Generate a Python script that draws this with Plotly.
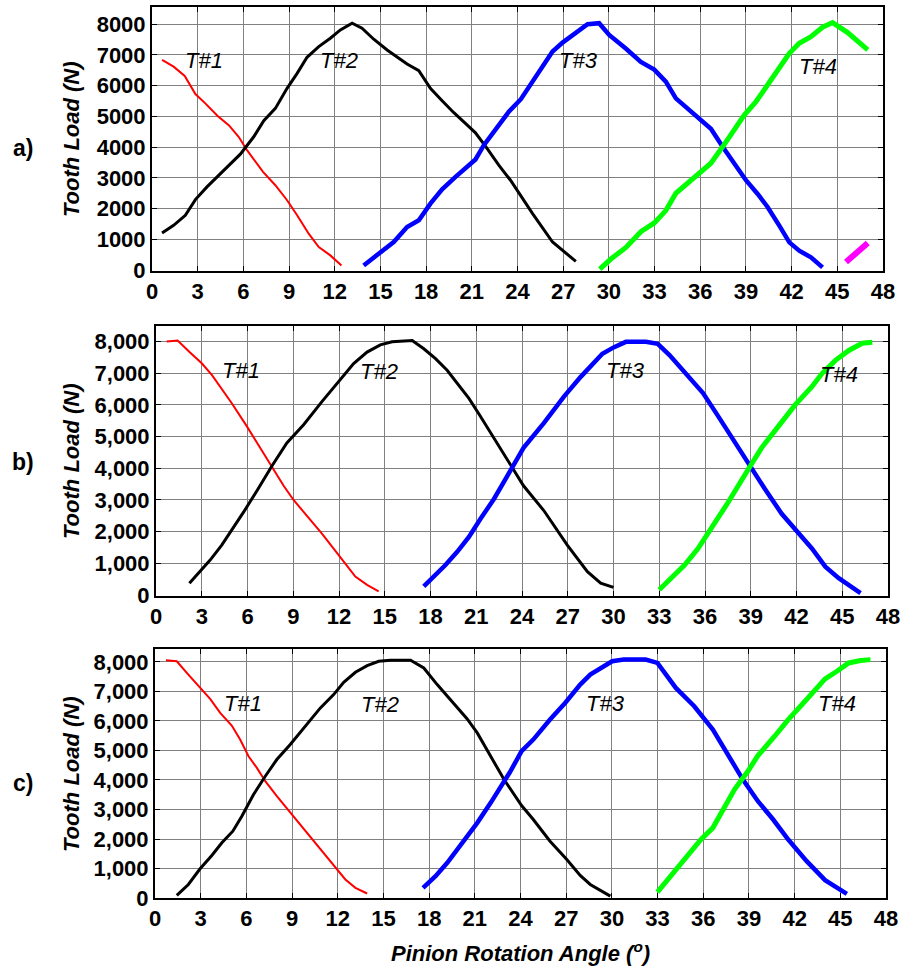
import plotly.graph_objects as go

# ---------------- data ----------------
x_ticks = list(range(0, 49, 3))
y_ticks = list(range(0, 8001, 1000))
panel_labels = ["a)", "b)", "c)"]
tooth_labels = ["T#1", "T#2", "T#3", "T#4"]

# Panel a
a_t1_x = [0.66, 1.42, 2.15, 2.85, 3.5, 4.31, 5.04, 5.69, 6.24, 7.29, 8.1, 8.87, 9.53, 10.29, 10.95, 11.71, 12.44]
a_t1_y = [6837, 6620, 6315, 5728, 5424, 5011, 4717, 4337, 3902, 3196, 2761, 2272, 1783, 1185, 750, 478, 152]
a_t2_x = [0.66, 1.42, 2.19, 2.85, 3.61, 4.38, 5.15, 5.8, 6.68, 7.34, 8.1, 8.87, 9.53, 10.18, 10.95, 11.71, 12.37,
          13.14, 13.79, 14.56, 15.44, 16.75, 17.52, 18.28, 19.05, 19.82, 20.58, 21.24, 22.0, 22.77, 23.54, 24.1,
          24.99, 26.3, 27.83]
a_t2_y = [1207, 1457, 1783, 2293, 2707, 3087, 3446, 3772, 4337, 4859, 5261, 5913, 6402, 6924, 7272, 7543, 7815,
          8033, 7870, 7511, 7163, 6707, 6489, 5913, 5511, 5120, 4772, 4467, 3957, 3413, 2924, 2500,
          1837, 913, 283]
a_t3_x = [13.9, 14.78, 15.87, 16.75, 17.52, 18.28, 19.05, 19.93, 20.69, 21.24, 21.79, 22.66, 23.43, 24.22, 25.09,
          26.3, 26.96, 27.83, 28.6, 29.36, 30.02, 31.11, 32.1, 32.98, 33.74, 34.4, 35.17, 35.93, 36.7, 37.47,
          38.23, 39.0, 39.77, 40.42, 41.19, 41.85, 42.5, 43.27, 44.03]
a_t3_y = [152, 478, 913, 1402, 1620, 2163, 2630, 3033, 3359, 3598, 4065, 4641, 5152, 5560, 6207,
          7109, 7402, 7707, 8000, 8033, 7652, 7207, 6772, 6522, 6130, 5587, 5261, 4902, 4598, 4011,
          3467, 2924, 2478, 2054, 1446, 902, 630, 413, 87]
a_t4_x = [29.4, 30.13, 31.12, 32.1, 32.98, 33.74, 34.4, 35.17, 35.93, 36.7, 37.47, 38.23, 38.89, 39.66, 40.42,
          41.19, 41.85, 42.5, 43.27, 44.03, 44.69, 45.68, 47.0]
a_t4_y = [33, 359, 739, 1250, 1533, 1935, 2500, 2826, 3130, 3478, 4011, 4554, 5043, 5478, 6022,
          6565, 7054, 7380, 7598, 7902, 8054, 7728, 7163]
a_t5_x = [45.57, 47.0]
a_t5_y = [261, 880]

# Panel b
b_t1_x = [0.7, 1.42, 2.23, 3.0, 3.66, 4.31, 4.97, 5.96, 6.83, 7.71, 8.37, 9.02, 9.9, 10.88, 11.98, 13.07, 13.84, 14.6]
b_t1_y = [8000, 8031, 7656, 7313, 6948, 6521, 6052, 5323, 4646, 3969, 3448, 3000, 2510, 1938, 1260, 583, 323, 115]
b_t2_x = [2.19, 2.89, 3.55, 4.31, 4.97, 5.74, 6.62, 7.6, 8.58, 9.68, 10.88, 12.2, 12.96, 13.84, 14.71, 15.48, 16.25,
          16.8, 17.56, 18.33, 19.09, 19.75, 20.52, 21.28, 22.16, 23.04, 24.1, 25.43, 26.97, 28.29, 29.16, 30.0]
b_t2_y = [375, 740, 1104, 1573, 2042, 2615, 3292, 4073, 4802, 5375, 6104, 6885, 7302, 7667, 7896, 7990, 8010,
          8031, 7771, 7458, 7094, 6677, 6208, 5635, 4958, 4281, 3448, 2667, 1573, 740, 375, 240]
b_t3_x = [17.56, 18.22, 18.98, 19.75, 20.52, 21.28, 22.16, 23.04, 24.1, 25.43, 26.75, 27.85, 28.62, 29.27, 30.04,
          30.81, 32.13, 32.9, 33.67, 34.55, 35.87, 36.86, 37.96, 38.95, 39.93, 41.03, 42.02, 43.01, 43.89, 44.77,
          46.2]
b_t3_y = [271, 583, 948, 1365, 1833, 2406, 3031, 3760, 4646, 5427, 6260, 6885, 7302, 7615, 7823,
          7990, 7990, 7927, 7573, 7104, 6375, 5646, 4802, 4073, 3344, 2563, 2042, 1469, 896, 531,
          62]
b_t4_x = [33.0, 33.78, 34.66, 35.54, 36.42, 37.52, 38.84, 39.71, 40.81, 41.91, 43.01, 43.67, 44.55, 45.43, 46.31, 46.97]
b_t4_y = [167, 531, 948, 1469, 2094, 2927, 3969, 4646, 5323, 6000, 6573, 6990, 7406, 7719, 7948, 7979]

# Panel c
c_t1_x = [0.72, 1.43, 2.19, 2.96, 3.62, 4.28, 5.04, 5.59, 6.14, 6.69, 7.24, 8.0, 8.99, 10.09, 11.07, 11.95, 12.5,
          13.16, 13.93]
c_t1_y = [8056, 8022, 7571, 7120, 6747, 6273, 5844, 5370, 4805, 4410, 3958, 3450, 2829, 2152, 1531, 966, 627,
          345, 153]
c_t2_x = [1.43, 2.19, 2.96, 3.73, 4.39, 5.11, 5.7, 6.47, 7.24, 8.0, 8.88, 9.87, 10.86, 11.73, 12.39, 13.16, 13.93,
          14.69, 15.46, 16.78, 17.65, 18.53, 19.52, 20.5, 21.16, 22.04, 22.92, 24.07, 24.84, 25.94, 27.04, 27.92,
          28.58, 29.9]
c_t2_y = [86, 458, 989, 1441, 1870, 2265, 2773, 3507, 4128, 4693, 5201, 5822, 6443, 6894, 7312, 7651, 7877,
          8024, 8058, 8058, 7797, 7233, 6634, 6070, 5596, 4805, 4015, 3134, 2660, 1926, 1305, 763,
          458, 63]
c_t3_x = [17.6, 18.42, 19.19, 20.39, 21.16, 22.04, 22.92, 23.3, 24.07, 24.84, 25.94, 26.93, 27.92, 28.58, 30.02,
          30.78, 32.22, 32.99, 34.2, 35.41, 36.63, 37.61, 38.6, 39.59, 40.59, 41.58, 42.79, 44.0, 45.43]
c_t3_y = [345, 740, 1192, 2005, 2547, 3225, 3930, 4260, 4975, 5370, 6048, 6612, 7233, 7572, 8024,
          8080, 8080, 7968, 7120, 6499, 5709, 4862, 4015, 3281, 2660, 1983, 1249, 605, 142]
c_t4_x = [32.99, 33.87, 34.97, 35.85, 36.63, 37.28, 38.05, 38.93, 39.59, 40.69, 41.58, 42.68, 44.0, 44.78, 45.55,
          46.32, 46.98]
c_t4_y = [198, 740, 1418, 1983, 2378, 2999, 3676, 4297, 4827, 5483, 6048, 6668, 7425, 7685, 7968,
          8047, 8080]

# label positions (data coords) per panel
label_x = [[3.4, 12.3, 28.0, 43.7], [5.6, 14.6, 30.8, 44.8], [5.8, 14.8, 29.6, 44.8]]
label_y = [[6830, 6830, 6830, 6640], [7100, 7050, 7100, 6950], [6590, 6560, 6590, 6590]]

# ---------------- styling ----------------
W, H = 902, 971
FONT = "Liberation Sans, Arial, sans-serif"
colors = ["#ff0000", "#000000", "#0000ff", "#00ff00", "#ff00ff"]
widths = [2, 3, 4.5, 5, 6]

# panel pixel boxes: (left, right, top, bottom)
boxes = [(152, 883, 7, 271), (156, 888, 326, 596), (155, 886, 649, 898)]
yranges = [[-30, 8560], [-30, 8490], [0, 8440]]
yformats = ["d", ",d", ",d"]
title_y_px = [139, 461, 774]
plabel_y_px = [148, 462, 783]

panels = [
    [(a_t1_x, a_t1_y), (a_t2_x, a_t2_y), (a_t3_x, a_t3_y), (a_t4_x, a_t4_y), (a_t5_x, a_t5_y)],
    [(b_t1_x, b_t1_y), (b_t2_x, b_t2_y), (b_t3_x, b_t3_y), (b_t4_x, b_t4_y)],
    [(c_t1_x, c_t1_y), (c_t2_x, c_t2_y), (c_t3_x, c_t3_y), (c_t4_x, c_t4_y)],
]

fig = go.Figure()
layout = dict(width=W, height=H, margin=dict(l=0, r=0, t=0, b=0),
              paper_bgcolor="white", plot_bgcolor="white", showlegend=False,
              font=dict(family=FONT, color="black"))
annotations = []

for i, series in enumerate(panels):
    sfx = "" if i == 0 else str(i + 1)
    xa, ya = "x" + sfx, "y" + sfx
    for j, (xs, ys) in enumerate(series):
        fig.add_trace(go.Scatter(x=xs, y=ys, mode="lines", xaxis=xa, yaxis=ya,
                                 line=dict(color=colors[j], width=widths[j]),
                                 hoverinfo="skip"))
    l, r, t, b = boxes[i]
    axis_common = dict(showline=True, linecolor="black", linewidth=2, mirror="ticks",
                       ticks="inside", ticklen=5, tickcolor="black", tickwidth=1,
                       showgrid=True, gridcolor="#808080", gridwidth=1, zeroline=False,
                       automargin=False,
                       tickfont=dict(family=FONT, size=22, color="black", weight="bold"))
    layout["xaxis" + sfx] = dict(domain=[l / W, r / W], anchor=ya, range=[0, 48],
                                 tickvals=x_ticks, **axis_common)
    layout["yaxis" + sfx] = dict(domain=[1 - b / H, 1 - t / H], anchor=xa, range=yranges[i],
                                 tickvals=y_ticks, tickformat=yformats[i], **axis_common)
    # tooth labels
    for k, txt in enumerate(tooth_labels):
        annotations.append(dict(x=label_x[i][k], y=label_y[i][k], xref=xa, yref=ya, text="<i>" + txt + "</i>",
                                xanchor="center", yanchor="middle",
                                showarrow=False, font=dict(family=FONT, size=22, color="black")))
    # y axis title
    annotations.append(dict(x=71 / W, y=1 - title_y_px[i] / H, xref="paper", yref="paper",
                            xanchor="center", yanchor="middle",
                            text="<b><i>Tooth Load (N)</i></b>", textangle=-90, showarrow=False,
                            font=dict(family=FONT, size=22, color="black")))
    # panel label
    annotations.append(dict(x=23 / W, y=1 - plabel_y_px[i] / H, xref="paper", yref="paper",
                            xanchor="center", yanchor="middle",
                            text="<b>" + panel_labels[i] + "</b>", showarrow=False,
                            font=dict(family=FONT, size=23, color="black")))

annotations.append(dict(x=520 / W, y=1 - 952 / H, xref="paper", yref="paper",
                        xanchor="center", yanchor="middle",
                        text="<b><i>Pinion Rotation Angle (<sup>o</sup>)</i></b>", showarrow=False,
                        font=dict(family=FONT, size=22, color="black")))
layout["annotations"] = annotations
fig.update_layout(**layout)
fig.write_html("out.html", config={"displayModeBar": False},
               post_script="document.body.style.margin='0';document.body.style.overflow='hidden';")
